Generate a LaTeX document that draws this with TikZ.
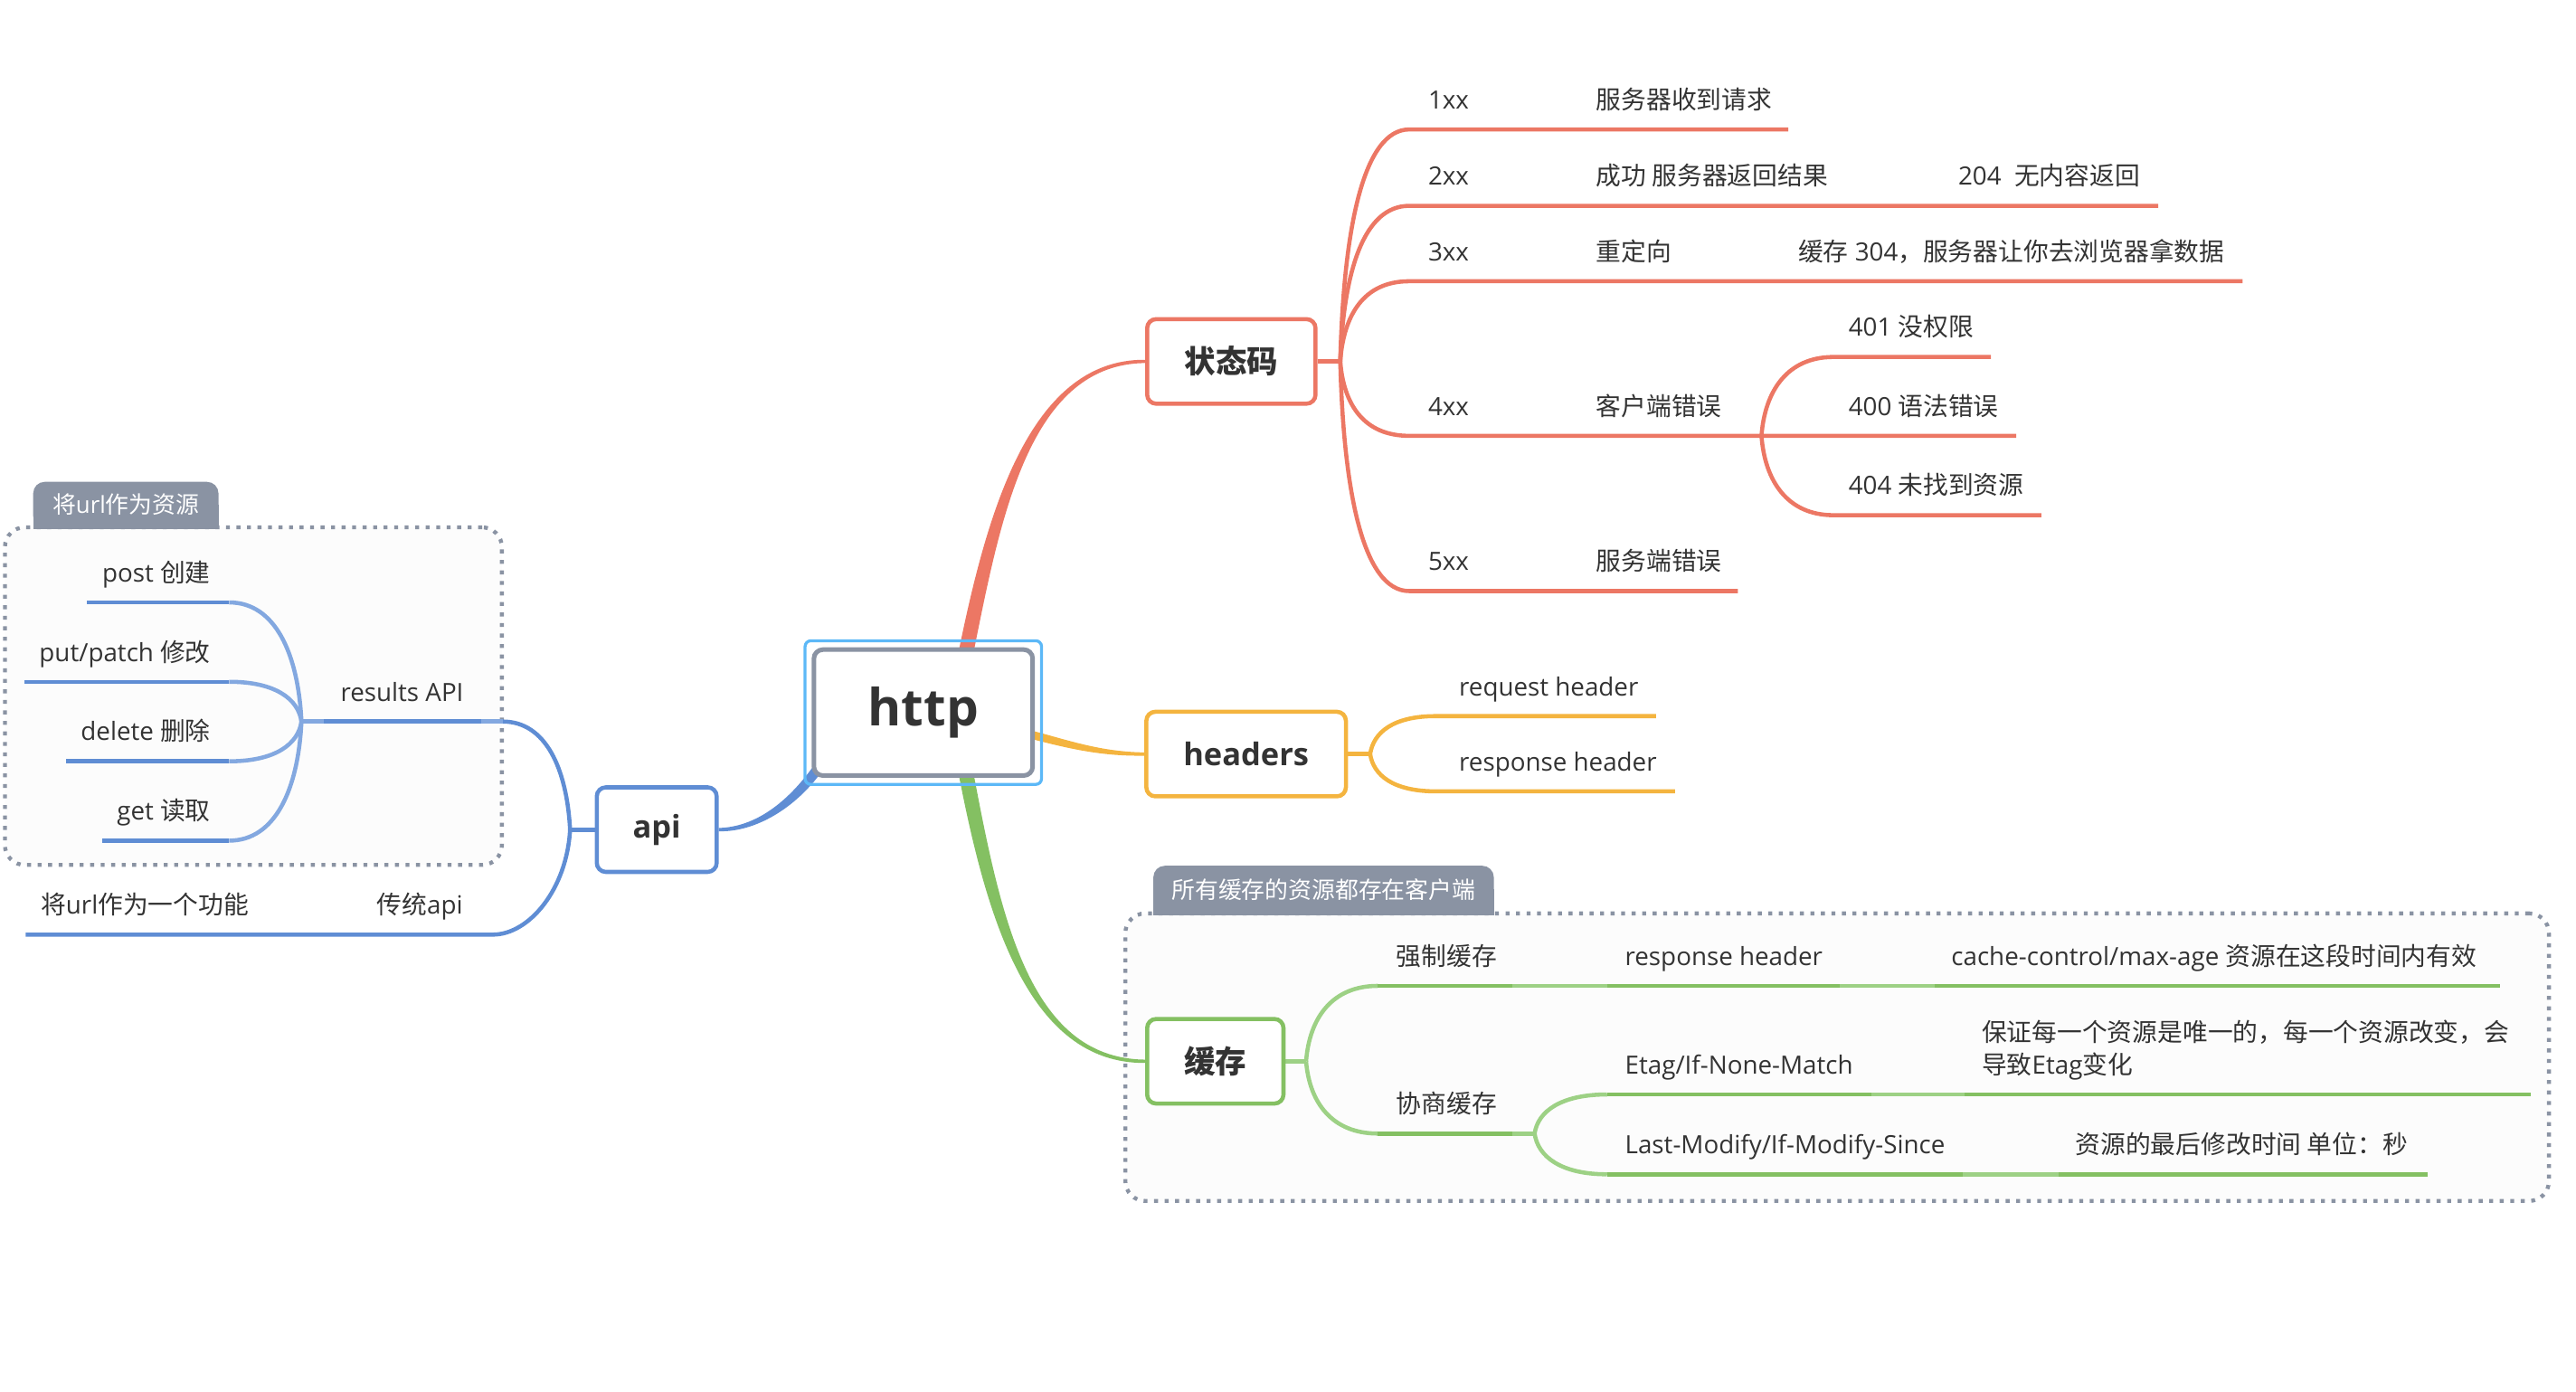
\documentclass[tikz,border=0pt]{standalone}
\usepackage{fontspec}
\setmainfont{Open Sans}
\newfontfamily\cjk{Noto Sans CJK SC}
\usetikzlibrary{positioning, calc, fit}
\definecolor{clrstatus}{HTML}{EC7764}
\definecolor{clrheader}{HTML}{F4B43F}
\definecolor{clrcache}{HTML}{84C062}
\definecolor{clrcachelight}{HTML}{9DD185}
\definecolor{clrapi}{HTML}{5F8DD4}
\definecolor{clrapilight}{HTML}{83A8E0}
\definecolor{clrroot}{HTML}{8A93A3}
\definecolor{clrselect}{HTML}{5CB8F7}
\definecolor{clrtext}{HTML}{333333}
\definecolor{clrgroup_frame}{HTML}{8A93A3}
\definecolor{clrgroup_fill}{HTML}{FCFCFC}
\pgfdeclarelayer{back}
\pgfdeclarelayer{mid}
\pgfsetlayers{back,mid,main}

\begin{document}
\begin{tikzpicture}[
    x=0.02cm, y=-0.02cm,
    every node/.style={text=clrtext},
    block/.style={draw, fill=white, line width=0.05cm, rounded corners=0.11cm,
                  minimum height=1.03cm, inner sep=0,
                  font=\fontsize{10.8}{13}\selectfont\bfseries},
    txt/.style={inner sep=0, font=\fontsize{8.7}{11.3}\selectfont},
    branch/.style={line width=0.05cm},
    groupbox/.style={draw=clrgroup_frame, fill=clrgroup_fill, line width=0.048cm,
                     dash pattern=on 0.048cm off 0.08cm, rounded corners=0.24cm, inner sep=0},
    tabfill/.style={fill=clrgroup_frame, rounded corners=0.14cm, inner sep=0,
                    text=white, font=\fontsize{8.1}{10}\selectfont},
]
\useasboundingbox (0,0) rectangle (1568,847);

\node[block, draw=clrroot, line width=0.055cm, minimum width=2.664cm, minimum height=1.534cm, font=\fontsize{17.75}{20}\selectfont\bfseries] (n_1) at (562,433.75) {http};
\node[draw=clrselect, line width=0.036cm, rounded corners=0.07cm, inner sep=0.08cm, fit=(n_1)] (n_1_sel) {};
\node[block, draw=clrstatus, minimum width=2.05cm] (n_2) at (749.5,220) {{\cjk 状态码}};
\node[block, draw=clrheader, minimum width=2.43cm] (n_3) at (758.5,459) {headers};
\node[block, draw=clrcache, minimum width=1.66cm] (n_4) at (739.75,646) {{\cjk 缓存}};
\node[block, draw=clrapi, minimum width=1.46cm] (n_5) at (399.75,505) {api};

\node[txt, anchor=base west] (n_6) at (869,66.3) {1xx};
\node[txt, anchor=base west] (n_7) at (971.3,66.3) {{\cjk 服务器收到请求}};
\node[txt, anchor=base west] (n_8) at (869,112.8) {2xx};
\node[txt, anchor=base west] (n_9) at (971.3,112.8) {{\cjk 成功 服务器返回结果}};
\node[txt, anchor=base west] (n_10) at (1191.6,112.8) {204\ \ {\cjk 无内容返回}};
\node[txt, anchor=base west] (n_11) at (869,158.7) {3xx};
\node[txt, anchor=base west] (n_12) at (971.3,158.7) {{\cjk 重定向}};
\node[txt, anchor=base west] (n_13) at (1094.2,158.7) {{\cjk 缓存} 304{\cjk ，服务器让你去浏览器拿数据}};
\node[txt, anchor=base west] (n_14) at (869,252.8) {4xx};
\node[txt, anchor=base west] (n_15) at (971.3,252.8) {{\cjk 客户端错误}};
\node[txt, anchor=base west] (n_16) at (1124.9,204.8) {401 {\cjk 没权限}};
\node[txt, anchor=base west] (n_17) at (1124.9,252.8) {400 {\cjk 语法错误}};
\node[txt, anchor=base west] (n_18) at (1124.9,301.1) {404 {\cjk 未找到资源}};
\node[txt, anchor=base west] (n_19) at (869,347.3) {5xx};
\node[txt, anchor=base west] (n_20) at (971.3,347.3) {{\cjk 服务端错误}};
\node[txt, anchor=base west] (n_21) at (887.8,423.4) {request header};
\node[txt, anchor=base west] (n_22) at (887.8,469.2) {response header};
\node[txt, anchor=base west] (n_23) at (849.6,587.6) {{\cjk 强制缓存}};
\node[txt, anchor=base west] (n_24) at (988.8,587.6) {response header};
\node[txt, anchor=base west] (n_25) at (1187.4,587.6) {cache-control/max-age {\cjk 资源在这段时间内有效}};
\node[txt, anchor=base west] (n_26) at (849.6,677.5) {{\cjk 协商缓存}};
\node[txt, anchor=base west] (n_27) at (988.8,653.7) {Etag/If-None-Match};
\node[txt, anchor=base west, align=left] (n_28) at (1206,653.7) {{\cjk 保证每一个资源是唯一的，每一个资源改变，会}\\{\cjk 导致}Etag{\cjk 变化}};
\node[txt, anchor=base west] (n_29) at (988.8,702.3) {Last-Modify/If-Modify-Since};
\node[txt, anchor=base west] (n_30) at (1263,702.3) {{\cjk 资源的最后修改时间 单位：秒}};
\node[txt, anchor=base east] (n_31) at (282.5,426.7) {results API};
\node[txt, anchor=base east] (n_32) at (128.5,354.2) {post {\cjk 创建}};
\node[txt, anchor=base east] (n_33) at (128.5,402.5) {put/patch {\cjk 修改}};
\node[txt, anchor=base east] (n_34) at (128.5,450.9) {delete {\cjk 删除}};
\node[txt, anchor=base east] (n_35) at (128.5,499.2) {get {\cjk 读取}};
\node[txt, anchor=base east] (n_36) at (282,556.4) {{\cjk 传统}api};
\node[txt, anchor=base east] (n_37) at (151.7,556.4) {{\cjk 将}url{\cjk 作为一个功能}};

\coordinate (n_1_top) at ($(n_1.north)+(25,8)$);
\coordinate (n_1_bot) at ($(n_1.south)+(25,-8)$);
\coordinate (n_1_corner) at ($(n_1.south west)+(4,-6)$);
\coordinate (n_1_side) at ($(n_1.east)+(-4,13)$);
\coordinate (n_2_fork) at (815.8,220);
\coordinate (n_6_a) at (857.8,78.8);   \coordinate (n_7_b) at (1088.5,78.8);
\coordinate (n_8_a) at (857.8,125.3);  \coordinate (n_10_b) at (1313.7,125.3);
\coordinate (n_11_a) at (857.8,171.2); \coordinate (n_13_b) at (1365,171.2);
\coordinate (n_14_a) at (857.8,265.3); \coordinate (n_15_fork) at (1072.2,265.3); \coordinate (n_17_b) at (1227.2,265.3);
\coordinate (n_16_a) at (1116,217.3);  \coordinate (n_16_b) at (1211.8,217.3);
\coordinate (n_18_a) at (1116,313.6);  \coordinate (n_18_b) at (1242.6,313.6);
\coordinate (n_19_a) at (857.8,359.8); \coordinate (n_20_b) at (1057.8,359.8);
\coordinate (n_3_fork) at (834,459);
\coordinate (n_21_a) at (874,435.9);   \coordinate (n_21_b) at (1008,435.9);
\coordinate (n_22_a) at (874,481.7);   \coordinate (n_22_b) at (1019.5,481.7);
\coordinate (n_4_fork) at (795,646);
\coordinate (n_23_a) at (838.7,600.1); \coordinate (n_23_b) at (920.4,600.1);
\coordinate (n_24_a) at (978.2,600.1); \coordinate (n_24_b) at (1119.7,600.1);
\coordinate (n_25_a) at (1177.6,600.1); \coordinate (n_25_b) at (1522,600.1);
\coordinate (n_26_a) at (838.7,690);   \coordinate (n_26_b) at (920.4,690); \coordinate (n_26_fork) at (934.1,690);
\coordinate (n_27_a) at (978.2,666.2); \coordinate (n_27_b) at (1139,666.2);
\coordinate (n_28_a) at (1196,666.2);  \coordinate (n_28_b) at (1540.5,666.2);
\coordinate (n_29_a) at (978.2,714.8); \coordinate (n_29_b) at (1194.7,714.8);
\coordinate (n_30_a) at (1252.8,714.8); \coordinate (n_30_b) at (1477.5,714.8);
\coordinate (n_5_fork) at (347,505);
\coordinate (n_31_a) at (306,439.2);   \coordinate (n_31_b) at (292.7,439.2);
\coordinate (n_31_c) at (197.3,439.2); \coordinate (n_31_fork) at (183.5,439.2);
\coordinate (n_32_a) at (139.5,366.7); \coordinate (n_32_b) at (52.6,366.7);
\coordinate (n_33_a) at (139.5,415);   \coordinate (n_33_b) at (14.7,415);
\coordinate (n_34_a) at (139.5,463.4); \coordinate (n_34_b) at (40,463.4);
\coordinate (n_35_a) at (139.5,511.7); \coordinate (n_35_b) at (62,511.7);
\coordinate (n_36_a) at (300,568.9);   \coordinate (n_37_b) at (15.6,568.9);

\begin{pgfonlayer}{back}
\node[groupbox, fit={(3,321) (305.5,526.5)}] (g_0) {};
\fill[clrgroup_frame] (20.2,307) rectangle (133,322.3);
\node[tabfill, minimum width=2.256cm, minimum height=0.554cm] (g_0_tab) at (76.6,307.15) {{\cjk 将}url{\cjk 作为资源}};
\node[groupbox, fit={(685,556) (1551.5,731)}] (g_1) {};
\fill[clrgroup_frame] (702,541) rectangle (909.3,557.3);
\node[tabfill, minimum width=4.146cm, minimum height=0.58cm] (g_1_tab) at (805.65,541.5) {{\cjk 所有缓存的资源都存在客户端}};
\end{pgfonlayer}

\begin{pgfonlayer}{mid}
\fill[clrstatus] ($(n_1_top)+(-4.4,-1)$) .. controls +(17,-84) and +(-72,-0.6) .. ($(n_2.west)+(0,-1)$) -- ($(n_2.west)+(0,1)$) .. controls +(-72,0.6) and +(17,-84) .. ($(n_1_top)+(4.4,1)$) -- cycle;
\fill[clrcache] ($(n_1_bot)+(4.4,-0.9)$) .. controls +(17,89.5) and +(-72,-0.6) .. ($(n_4.west)+(0,-1)$) -- ($(n_4.west)+(0,1)$) .. controls +(-72,0.6) and +(17,89.5) .. ($(n_1_bot)+(-4.4,0.9)$) -- cycle;
\fill[clrapi] ($(n_1_corner)+(-2.5,-1.7)$) .. controls +(-16,22.5) and +(22.5,-0.6) .. ($(n_5.east)+(0,-1)$) -- ($(n_5.east)+(0,1)$) .. controls +(22.5,0.6) and +(-16,22.5) .. ($(n_1_corner)+(2.5,1.7)$) -- cycle;
\fill[clrheader] ($(n_1_side)+(0.65,-2.4)$) .. controls +(24,6.25) and +(-27,-0.4) .. ($(n_3.west)+(0,-1)$) -- ($(n_3.west)+(0,1)$) .. controls +(-27,0.4) and +(24,6.25) .. ($(n_1_side)+(-0.65,2.4)$) -- cycle;

\draw[branch, clrstatus] (n_2.east) -- (n_2_fork);
\draw[branch, clrstatus] (n_2_fork) .. controls +(2,-80.5) and +(-28,0) .. (n_6_a) -- (n_7_b);
\draw[branch, clrstatus] (n_2_fork) .. controls +(2,-54) and +(-28,0) .. (n_8_a) -- (n_10_b);
\draw[branch, clrstatus] (n_2_fork) .. controls +(2,-27.8) and +(-28,0) .. (n_11_a) -- (n_13_b);
\draw[branch, clrstatus] (n_2_fork) .. controls +(2,25.8) and +(-28,0) .. (n_14_a) -- (n_17_b);
\draw[branch, clrstatus] (n_2_fork) .. controls +(2,79.7) and +(-28,0) .. (n_19_a) -- (n_20_b);
\draw[branch, clrstatus] (n_15_fork) .. controls +(2,-27.4) and +(-28,0) .. (n_16_a) -- (n_16_b);
\draw[branch, clrstatus] (n_15_fork) .. controls +(2,27.5) and +(-28,0) .. (n_18_a) -- (n_18_b);

\draw[branch, clrheader] (n_3.east) -- (n_3_fork);
\draw[branch, clrheader] (n_3_fork) .. controls +(2,-13.2) and +(-26,0) .. (n_21_a) -- (n_21_b);
\draw[branch, clrheader] (n_3_fork) .. controls +(2,12.9) and +(-26,0) .. (n_22_a) -- (n_22_b);

\draw[branch, clrcachelight] (n_4.east) -- (n_4_fork);
\draw[branch, clrcachelight] (n_4_fork) .. controls +(2,-26.2) and +(-28,0) .. (n_23_a);
\draw[branch, clrcachelight] (n_4_fork) .. controls +(2,25) and +(-28,0) .. (n_26_a);
\draw[branch, clrcache] (n_23_a) -- (n_23_b) (n_24_a) -- (n_24_b) (n_25_a) -- (n_25_b);
\draw[branch, clrcachelight] (n_23_b) -- (n_24_a) (n_24_b) -- (n_25_a);
\draw[branch, clrcache] (n_26_a) -- (n_26_b);
\draw[branch, clrcachelight] (n_26_b) -- (n_26_fork);
\draw[branch, clrcachelight] (n_26_fork) .. controls +(2,-13.6) and +(-28,0) .. (n_27_a);
\draw[branch, clrcachelight] (n_26_fork) .. controls +(2,14.1) and +(-28,0) .. (n_29_a);
\draw[branch, clrcache] (n_27_a) -- (n_27_b) (n_28_a) -- (n_28_b) (n_29_a) -- (n_29_b) (n_30_a) -- (n_30_b);
\draw[branch, clrcachelight] (n_27_b) -- (n_28_a) (n_29_b) -- (n_30_a);

\draw[branch, clrapi] (n_5.west) -- (n_5_fork);
\draw[branch, clrapi] (n_5_fork) .. controls +(-2,-37.5) and +(26,0) .. (n_31_a);
\draw[branch, clrapilight] (n_31_a) -- (n_31_b);
\draw[branch, clrapi] (n_31_b) -- (n_31_c);
\draw[branch, clrapilight] (n_31_c) -- (n_31_fork);
\draw[branch, clrapilight] (n_31_fork) .. controls +(-2,-41.3) and +(28,0) .. (n_32_a);
\draw[branch, clrapilight] (n_31_fork) .. controls +(-2,-13.8) and +(28,0) .. (n_33_a);
\draw[branch, clrapilight] (n_31_fork) .. controls +(-2,13.8) and +(28,0) .. (n_34_a);
\draw[branch, clrapilight] (n_31_fork) .. controls +(-2,41.3) and +(28,0) .. (n_35_a);
\draw[branch, clrapi] (n_32_a) -- (n_32_b) (n_33_a) -- (n_33_b) (n_34_a) -- (n_34_b) (n_35_a) -- (n_35_b);
\draw[branch, clrapi] (n_5_fork) .. controls +(-2,36.4) and +(22,0) .. (n_36_a) -- (n_37_b);
\end{pgfonlayer}
\end{tikzpicture}
\end{document}
